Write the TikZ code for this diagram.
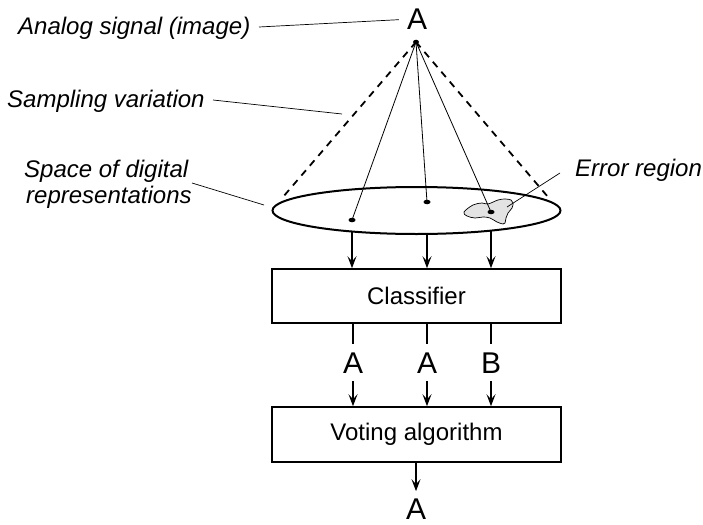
\documentclass[tikz,border=0pt]{standalone}
\usepackage{fontspec}
\setmainfont{Liberation Sans}
\usetikzlibrary{arrows.meta,shapes.geometric,backgrounds}
\begin{document}
\begin{tikzpicture}[x=1pt,y=-1pt,
  caption/.style={font=\fontsize{24}{26}\selectfont\itshape, inner sep=0pt, anchor=base west},
  letter/.style={font=\fontsize{30}{32}\selectfont, inner sep=8pt, anchor=base},
  box/.style={draw, line width=1.6pt, minimum width=289pt, minimum height=54pt,
    font=\fontsize{24}{26}\selectfont, inner sep=0pt},
  leader/.style={line width=0.7pt},
  ray/.style={line width=0.8pt},
  cone/.style={line width=1.8pt, dash pattern=on 7pt off 6pt},
  flow/.style={line width=1.2pt, -{Stealth[length=12pt,width=9pt,inset=5pt]}},
  link/.style={line width=1.2pt},
  dot/.style={fill, ellipse, minimum width=7pt, minimum height=4.5pt, inner sep=0pt}
]
\useasboundingbox (0,0) rectangle (703,524);

% space of digital representations
\node[draw, fill=white, ellipse, line width=2pt, minimum width=288pt,
  minimum height=47pt, inner sep=0pt] (ell) at (416.5,210.5) {};

% error region
\draw[line width=0.7pt, fill=gray!22] plot[smooth cycle, tension=0.6] coordinates {
  (464,212) (473,205) (482,203) (488,204) (498,200) (505,199) (511,200)
  (513,203) (512,208) (508,213) (506,218) (505,223) (503,224) (497,222)
  (490,218) (483,217) (475,218) (467,216)};

% analog signal and its samples
\node[letter] (A0) at (417,30) {A};
\node[dot, minimum width=6pt, minimum height=4.5pt] (apex) at (416,42) {};
\node[dot] (d1) at (352,220) {};
\node[dot] (d2) at (427,202) {};
\node[dot] (d3) at (491,212) {};
\coordinate (cl) at (283,197);
\coordinate (cr) at (548,197);

\draw[cone] (apex.center) -- (cl);
\draw[cone] (apex.center) -- (cr);
\draw[ray] (apex.center) -- (d1.center);
\draw[ray] (apex.center) -- (d2.center);
\draw[ray] (apex.center) -- (d3.center);

% processing boxes
\node[box] (cls) at (416.5,296) {Classifier};
\node[box, minimum height=55pt] (vote) at (416.5,434.5) {Voting algorithm};

\begin{scope}[on background layer]
  \draw[flow] (d1 |- ell.center) -- (d1 |- cls.north);
  \draw[flow] (d2 |- ell.center) -- (d2 |- cls.north);
  \draw[flow] (d3 |- ell.center) -- (d3 |- cls.north);
\end{scope}

% classifier outputs
\node[letter] (o1) at (353,373) {A};
\node[letter] (o2) at (427,373) {A};
\node[letter] (o3) at (491,373) {B};
\foreach \o in {o1,o2,o3}{
  \draw[link] (\o |- cls.south) -- (\o.north);
  \draw[flow] (\o.south) -- (\o |- vote.north);
}

% final decision
\node[letter, inner sep=1pt] (res) at (416,519) {A};
\draw[flow, shorten >=6pt] (vote.south -| res) -- (res.north);

% annotations
\node[caption] (lab1) at (18,35) {Analog signal (image)};
\node[caption] (lab2) at (7,107) {Sampling variation};
\node[caption] (lab3) at (24,177) {Space of digital};
\node[caption] (lab3b) at (26,203) {representations};
\node[caption] (lab4) at (575,176) {Error region};

\coordinate (p1) at (259,27);
\coordinate (p2s) at (213,100);
\coordinate (p2e) at (342,114);
\coordinate (p3s) at (192,183);
\coordinate (p3e) at (264,205);
\coordinate (p4s) at (560,173);
\coordinate (p4e) at (507,207);

\draw[leader] (p1) -- (A0.west);
\draw[leader] (p2s) -- (p2e);
\draw[leader] (p3s) -- (p3e);
\draw[leader] (p4s) -- (p4e);
\end{tikzpicture}
\end{document}
